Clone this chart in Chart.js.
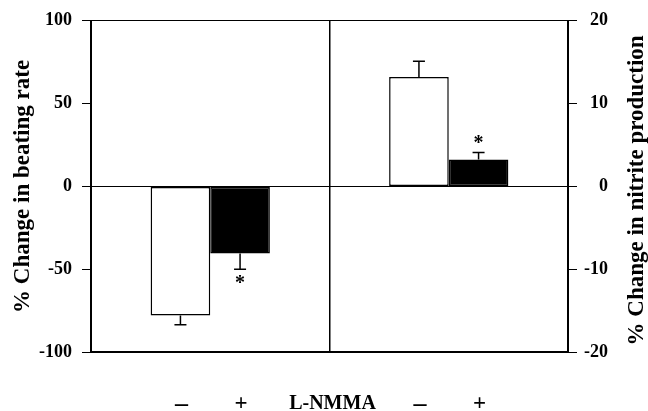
<!DOCTYPE html>
<html>
<head>
<meta charset="utf-8">
<script src="https://cdn.jsdelivr.net/npm/chart.js@4"></script>
<style>
  html, body { margin: 0; padding: 0; background: #fff; }
  #wrap { width: 648px; height: 411px; position: relative; }
</style>
</head>
<body>
<div id="wrap"><canvas id="myChart"></canvas></div>
<script>
// left panel: beating rate (%), right panel: nitrite production (%)
const panels = ['beating', 'nitrite'];
const barLabels = ['–', '+'];
const beatingMeans = [-78, -40.5];
const beatingErrors = [-83.5, -50];
const nitriteMeans = [13.2, 3.25];
const nitriteErrors = [15.1, 4.1];
const significant = [false, true];
const leftTicks = [-100, -50, 0, 50, 100];
const rightTicks = [-20, -10, 0, 10, 20];

const serif = 'Liberation Serif';
const ctx = document.getElementById('myChart').getContext('2d');

const datasets = [
  { label: 'control', data: [beatingMeans[0], null], err: [beatingErrors[0], null], yAxisID: 'y', backgroundColor: '#fff', sig: significant[0] },
  { label: 'L-NMMA', data: [beatingMeans[1], null], err: [beatingErrors[1], null], yAxisID: 'y', backgroundColor: '#000', sig: significant[1] },
  { label: 'control ', data: [null, nitriteMeans[0]], err: [null, nitriteErrors[0]], yAxisID: 'y1', backgroundColor: '#fff', sig: significant[0] },
  { label: 'L-NMMA ', data: [null, nitriteMeans[1]], err: [null, nitriteErrors[1]], yAxisID: 'y1', backgroundColor: '#000', sig: significant[1] },
].map(d => Object.assign(d, {
  borderColor: '#000',
  borderWidth: 1.5,
  borderSkipped: false,
  skipNull: true,
  categoryPercentage: 0.5,
  barPercentage: 1.0,
}));

// error bars, asterisks, labels under bars, right axis title
const extras = {
  id: 'extras',
  afterDatasetsDraw(chart) {
    const c = chart.ctx;
    c.save();
    c.strokeStyle = '#000';
    c.fillStyle = '#000';
    c.lineWidth = 1.5;
    chart.data.datasets.forEach((ds, di) => {
      const meta = chart.getDatasetMeta(di);
      const scale = chart.scales[ds.yAxisID];
      meta.data.forEach((bar, i) => {
        if (ds.data[i] == null) return;
        const yEnd = scale.getPixelForValue(ds.err[i]);
        c.beginPath();
        c.moveTo(bar.x, bar.y);
        c.lineTo(bar.x, yEnd);
        c.moveTo(bar.x - 6, yEnd);
        c.lineTo(bar.x + 6, yEnd);
        c.stroke();
        if (ds.sig) {
          c.font = 'bold 20px ' + serif;
          c.textAlign = 'center';
          c.textBaseline = 'middle';
          const dir = ds.data[i] < 0 ? 1 : -1;
          c.fillText('*', bar.x, yEnd + dir * 12 + 3);
        }
      });
    });
    c.restore();
  },
  afterDraw(chart) {
    const c = chart.ctx;
    const area = chart.chartArea;
    const x = chart.scales.x;
    c.save();
    c.fillStyle = '#000';
    c.textAlign = 'center';
    c.textBaseline = 'middle';
    chart.data.datasets.forEach((ds, di) => {
      const meta = chart.getDatasetMeta(di);
      meta.data.forEach((bar, i) => {
        if (ds.data[i] == null) return;
        const lbl = barLabels[di % 2];
        c.font = (lbl === '–' ? 'bold 26px ' : 'bold 23px ') + serif;
        c.fillText(lbl, bar.x + 1, 404);
      });
    });
    c.font = 'bold 20px ' + serif;
    const mid = (x.getPixelForTick(0) + x.getPixelForTick(1)) / 2;
    c.fillText('L-NMMA', mid + 3, 404);

    c.font = 'bold 23px ' + serif;
    c.translate(637, (area.top + area.bottom) / 2 + 4);
    c.rotate(-Math.PI / 2);
    c.fillText('% Change in nitrite production', 0, 0);
    c.restore();
  }
};

const config = {
  type: 'bar',
  data: { labels: panels, datasets: datasets },
  options: {
    responsive: true,
    maintainAspectRatio: false,
    animation: false,
    layout: { padding: { top: 20, left: 0, right: 40, bottom: 0 } },
    plugins: {
      legend: { display: false },
      tooltip: { enabled: false },
    },
    scales: {
      x: {
        ticks: { display: false },
        grid: { color: '#000', lineWidth: 1.5, drawTicks: false, offset: true },
        border: { color: '#000', width: 2 },
        afterFit: s => { s.height = 59; },
      },
      y: {
        position: 'left',
        min: leftTicks[0],
        max: leftTicks[leftTicks.length - 1],
        afterBuildTicks: s => { s.ticks = leftTicks.map(v => ({ value: v })); },
        ticks: {
          color: '#000',
          padding: 10,
          font: { family: serif, size: 18, weight: 'bold' },
        },
        grid: {
          color: c => (c.tick && [0, 100].includes(c.tick.value)) ? '#000' : 'rgba(0,0,0,0)',
          tickColor: '#000',
          tickLength: 9,
          lineWidth: 1,
        },
        border: { color: '#000', width: 2 },
        title: {
          display: true,
          text: '% Change in beating rate',
          color: '#000',
          font: { family: serif, size: 23, weight: 'bold' },
          padding: { top: 9, bottom: 0 },
        },
        afterFit: s => { s.width = 91; },
      },
      y1: {
        position: 'right',
        min: rightTicks[0],
        max: rightTicks[rightTicks.length - 1],
        afterBuildTicks: s => { s.ticks = rightTicks.map(v => ({ value: v })); },
        ticks: {
          color: '#000',
          padding: 8,
          crossAlign: 'far',
          font: { family: serif, size: 18, weight: 'bold' },
        },
        grid: { drawOnChartArea: false, tickColor: '#000', tickLength: 9, lineWidth: 1 },
        border: { color: '#000', width: 2 },
        afterFit: s => { s.width = 40; },
      },
    },
  },
  plugins: [extras],
};

const myChart = new Chart(ctx, config);
</script>
</body>
</html>
